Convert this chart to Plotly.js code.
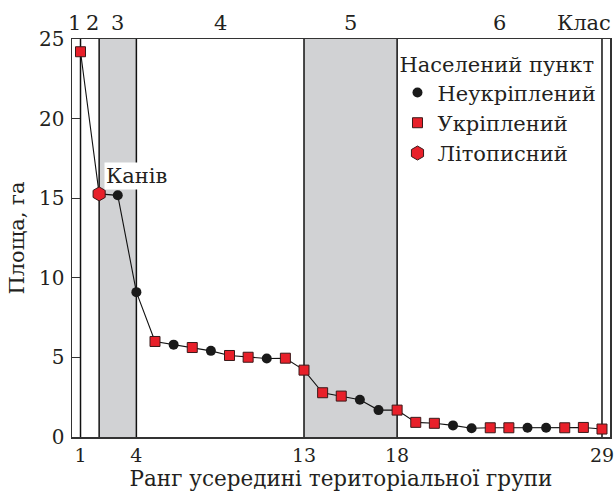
<!DOCTYPE html>
<html>
<head>
<meta charset="utf-8">
<script src="https://cdn.plot.ly/plotly-3.0.1.min.js"></script>
<style>html,body{margin:0;padding:0;background:#fff;}#chart{width:615px;height:493px;}</style>
</head>
<body>
<div id="chart"></div>
<script>
// ---- data ----
const rank = [1,2,3,4,5,6,7,8,9,10,11,12,13,14,15,16,17,18,19,20,21,22,23,24,25,26,27,28,29];
const area = [24.2,15.27,15.18,9.1,6.0,5.8,5.62,5.41,5.12,5.01,4.93,4.95,4.2,2.78,2.57,2.34,1.69,1.69,0.92,0.86,0.73,0.55,0.58,0.58,0.58,0.58,0.58,0.6,0.5];
// settlement type: N = unfortified, U = fortified, L = chronicle
const kind = ['U','L','N','N','U','N','U','N','U','U','N','U','U','U','U','N','N','U','U','U','N','N','U','U','N','N','U','U','U'];
const kindNames = {N:'Неукріплений', U:'Укріплений', L:'Літописний'};
const classBounds = [1,2,4,13,18,29];
const classLabels = ['1','2','3','4','5','6'];
const shadedClasses = [[2,4],[13,18]];
const xTicks = [1,4,13,18,29];
const yTicks = [0,5,10,15,20,25];
const xTitle = 'Ранг усередині територіальної групи';
const yTitle = 'Площа, га';
const legendTitle = 'Населений пункт';
const classWord = 'Клас';
const labelled = {x:2, y:15.27, text:'Канів'};

// ---- chart ----
const FONT = 'DejaVu Serif, serif';
const TXT = '#231f20';
const RED = '#e8202a';
const FS = 21;
const xr = [0.543, 29.43];

const traces = [{
  x: rank, y: area, mode: 'lines', type: 'scatter',
  line: {color: '#111', width: 1.1}, showlegend: false, hoverinfo: 'skip'
}];
const styles = {
  N: {symbol: 'circle', size: 10, color: '#1a1a1a', line: {color: '#1a1a1a', width: 0}},
  U: {symbol: 'square', size: 10, color: RED, line: {color: '#3a1a1a', width: 1}},
  L: {symbol: 'hexagon', size: 14, color: RED, line: {color: '#3a1a1a', width: 1}}
};
['N','U','L'].forEach(k => {
  const xs = [], ys = [];
  rank.forEach((r, i) => { if (kind[i] === k) { xs.push(r); ys.push(area[i]); } });
  traces.push({x: xs, y: ys, mode: 'markers', type: 'scatter', name: kindNames[k], marker: styles[k]});
});

const shapes = [];
shadedClasses.forEach(([a, b]) => shapes.push({type: 'rect', xref: 'x', yref: 'paper', x0: a, x1: b, y0: 0, y1: 1,
  fillcolor: '#d1d2d4', line: {width: 0}, layer: 'below'}));
classBounds.forEach(b => shapes.push({type: 'line', xref: 'x', yref: 'paper', x0: b, x1: b, y0: 0, y1: 1,
  line: {color: '#111', width: 1.5}, layer: 'below'}));

const edges = [xr[0]].concat(classBounds);
const annotations = classLabels.map((t, i) => ({
  text: t, xref: 'x', yref: 'paper', x: (edges[i] + edges[i + 1]) / 2, y: 1, yanchor: 'bottom', yshift: 2,
  xshift: i === 0 ? -2 : (i === 1 ? 3 : 0),
  showarrow: false, font: {family: FONT, size: FS, color: TXT}
}));
annotations.push({text: classWord, xref: 'paper', yref: 'paper', x: 1, y: 1, xanchor: 'right', yanchor: 'bottom', yshift: 2,
  xshift: 3, showarrow: false, font: {family: FONT, size: FS, color: TXT}});
annotations.push({text: labelled.text, x: labelled.x, y: labelled.y, xanchor: 'left', yanchor: 'middle', xshift: 5, yshift: 18,
  showarrow: false, bgcolor: '#fff', borderpad: 1, font: {family: FONT, size: FS, color: TXT}});

const layout = {
  width: 615, height: 493,
  margin: {l: 72, r: 5, t: 39, b: 56},
  paper_bgcolor: '#fff', plot_bgcolor: '#fff',
  font: {family: FONT, size: FS, color: TXT},
  xaxis: {range: xr, tickvals: xTicks, ticktext: xTicks.map(String), showgrid: false, zeroline: false,
    showline: true, mirror: true, linecolor: '#333', linewidth: 1.5, ticks: '', ticklabelstandoff: 1,
    tickfont: {family: FONT, size: 19, color: TXT},
    title: {text: xTitle, standoff: 3, font: {family: FONT, size: 21.5, color: TXT}}, automargin: false},
  yaxis: {range: [0, 25], tickvals: yTicks, showgrid: false, zeroline: false,
    showline: true, mirror: true, linecolor: '#333', linewidth: 1.5, ticks: 'inside', ticklen: 8, tickcolor: '#333',
    ticklabelstandoff: 2, tickfont: {family: FONT, size: 20, color: TXT},
    title: {text: yTitle, standoff: 8, font: {family: FONT, size: FS, color: TXT}}, automargin: false},
  showlegend: true,
  legend: {x: 0.605, y: 0.985, xanchor: 'left', yanchor: 'top', bgcolor: 'rgba(255,255,255,0)', borderwidth: 0,
    title: {text: legendTitle, font: {family: FONT, size: FS, color: TXT}},
    font: {family: FONT, size: FS, color: TXT}, itemwidth: 30},
  shapes: shapes,
  annotations: annotations
};

Plotly.newPlot('chart', traces, layout, {displayModeBar: false, staticPlot: true});
</script>
</body>
</html>
